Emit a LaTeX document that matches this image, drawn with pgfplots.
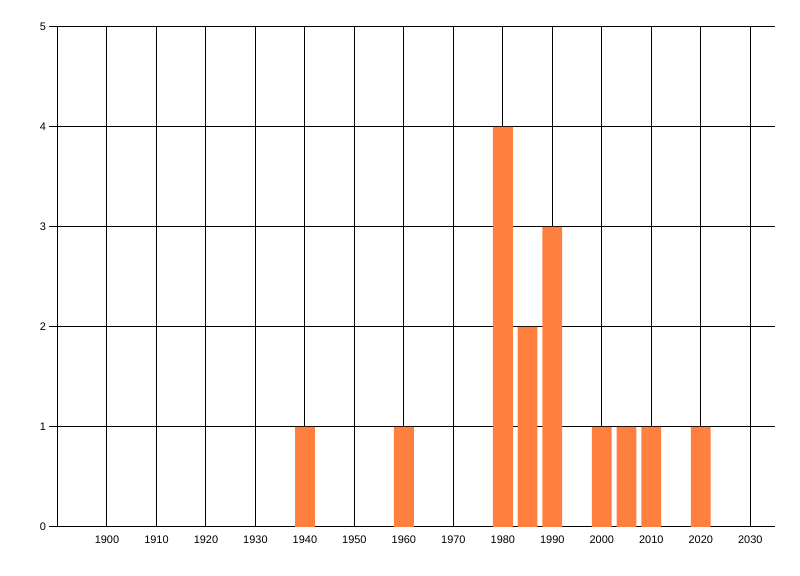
\documentclass[border=0pt]{standalone}
\usepackage{fontspec}
\setmainfont{Liberation Sans}
\usepackage{pgfplots}
\pgfplotsset{compat=1.18}
\definecolor{barorange}{RGB}{255,127,63}

\begin{document}
\begin{tikzpicture}
\begin{axis}[
    scale only axis,
    width=717.5bp, height=500bp,
    xmin=1890, xmax=2035,
    ymin=0, ymax=5,
    axis x line*=bottom,
    axis y line*=left,
    axis line style={black, line width=1bp},
    xtick={1900,1910,...,2030},
    ytick={0,1,...,5},
    grid=major,
    major grid style={black, line width=1bp},
    tick align=outside,
    major tick length=8bp,
    xtick style={draw=none},
    ytick style={black, line width=1bp},
    x tick label style={yshift=2.5bp},
    /pgf/number format/1000 sep={},
    /pgf/number format/assume math mode=true,
    tick label style={font=\fontsize{11}{13}\selectfont, text=black},
    ybar,
    bar width=19.8bp,
]
\addplot[fill=barorange, draw=none] coordinates {
    (1940,1) (1960,1) (1980,4) (1985,2) (1990,3)
    (2000,1) (2005,1) (2010,1) (2020,1)
};
\coordinate (sw) at (rel axis cs:0,0);
\coordinate (ne) at (rel axis cs:1,1);
\end{axis}
\pgfresetboundingbox
\useasboundingbox ([xshift=-57.5bp,yshift=-49bp]sw) rectangle ([xshift=25bp,yshift=27bp]ne);
\end{tikzpicture}
\end{document}
